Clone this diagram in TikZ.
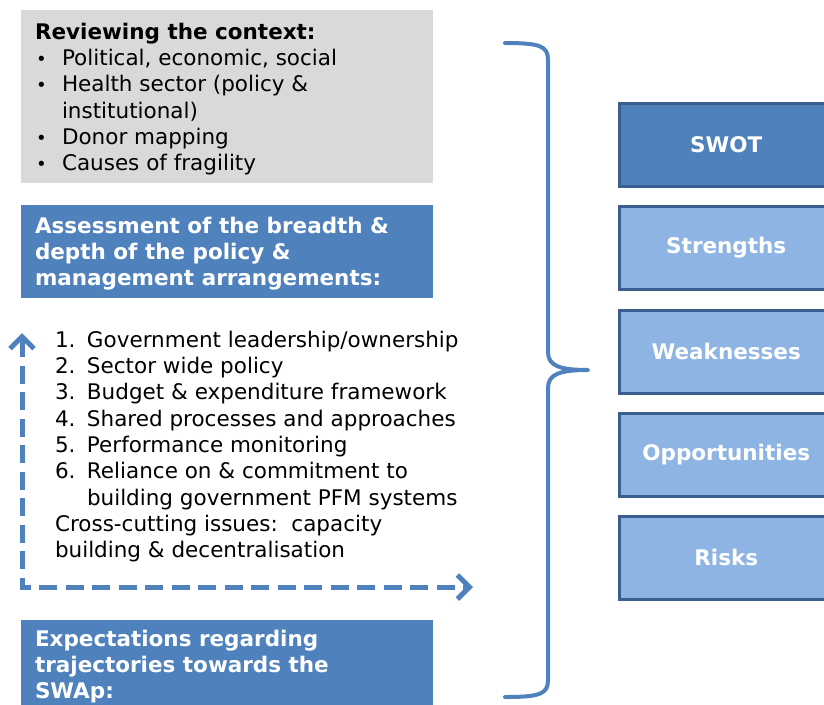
\documentclass[tikz,border=0pt]{standalone}
\usepackage{fontspec}
\setmainfont{DejaVu Sans}
\usetikzlibrary{arrows.meta}
\definecolor{ctxgray}{HTML}{D9D9D9}
\definecolor{midblue}{HTML}{4F81BD}
\definecolor{paleblue}{HTML}{8EB4E3}
\definecolor{edgeblue}{HTML}{3A5F8E}
\newcommand{\bul}{\makebox[27pt][l]{\hspace{1pt}{\fontsize{18}{18}\selectfont •}}}
\newcommand{\num}[1]{\makebox[32pt][l]{#1}}
\begin{document}
\begin{tikzpicture}[x=1pt,y=-1pt,
  panel/.style={anchor=north west, inner sep=0pt, outer sep=0pt,
    minimum width=412pt},
  txt/.style={anchor=north west, inner sep=0pt, outer sep=0pt, align=left,
    font=\fontsize{21.5}{26.3}\selectfont},
  btxt/.style={txt, font=\fontsize{21.5}{26.3}\selectfont\bfseries, text=white},
  swot/.style={anchor=north west, draw=edgeblue, line width=2.5pt, fill=paleblue,
    minimum width=214pt, minimum height=83pt, text=white,
    font=\fontsize{21.5}{24}\selectfont\bfseries},
  brace/.style={draw=midblue, line width=4pt, line cap=round, line join=round},
  loop/.style={draw=midblue, line width=5pt, dash pattern=on 18pt off 8.5pt,
    {Straight Barb[length=12pt,width=24pt]}-{Straight Barb[length=12pt,width=24pt]}}]
\useasboundingbox (0,0) rectangle (824,704);
\clip (0,0) rectangle (824,704);

% context panel
\node[panel, fill=ctxgray, minimum height=173pt] (context) at (21,10) {};
\node[txt] (contexttext) at (35,23) {\textbf{Reviewing the context:}\\
  \bul Political, economic, social\\
  \bul Health sector (policy \&\\
  \hspace*{27pt}institutional)\\
  \bul Donor mapping\\
  \bul Causes of fragility};

% assessment panel
\node[panel, fill=midblue, minimum height=93pt] (assess) at (21,205) {};
\node[btxt] (assesstext) at (35,217) {Assessment of the breadth \&\\
  depth of the policy \&\\
  management arrangements:};

% criteria list
\node[txt] (criteria) at (55,331) {\num{1.}Government leadership/ownership\\
  \num{2.}Sector wide policy\\
  \num{3.}Budget \& expenditure framework\\
  \num{4.}Shared processes and approaches\\
  \num{5.}Performance monitoring\\
  \num{6.}Reliance on \& commitment to\\
  \num{}building government PFM systems\\
  Cross-cutting issues:\ \ capacity\\
  building \& decentralisation};

% dashed feedback loop
\coordinate (uptip) at (22,333);
\coordinate (righttip) at (473,587);
\draw[loop] (uptip) |- (righttip);

% expectations panel
\node[panel, fill=midblue, minimum height=100pt] (expect) at (21,620) {};
\node[btxt] (expecttext) at (35,630) {Expectations regarding\\
  trajectories towards the\\
  SWAp:};

% brace gathering the left column
\coordinate (bracetop) at (505,43);
\coordinate (bracetip) at (588,370);
\coordinate (bracebot) at (505,697);
\draw[brace] (bracetop) .. controls (540,43) and (548,46) .. (548,60)
  -- (548,352) .. controls (548,366) and (560,370) .. (bracetip)
  .. controls (560,370) and (548,374) .. (548,388)
  -- (548,680) .. controls (548,694) and (540,697) .. (bracebot);

% SWOT column
\node[swot, fill=midblue] (swotbox) at (618,102) {SWOT};
\node[swot] (strengths) at (618,205) {Strengths};
\node[swot] (weaknesses) at (618,309) {Weaknesses};
\node[swot] (opportunities) at (618,412) {Opportunities};
\node[swot] (risks) at (618,515) {Risks};
\end{tikzpicture}
\end{document}
